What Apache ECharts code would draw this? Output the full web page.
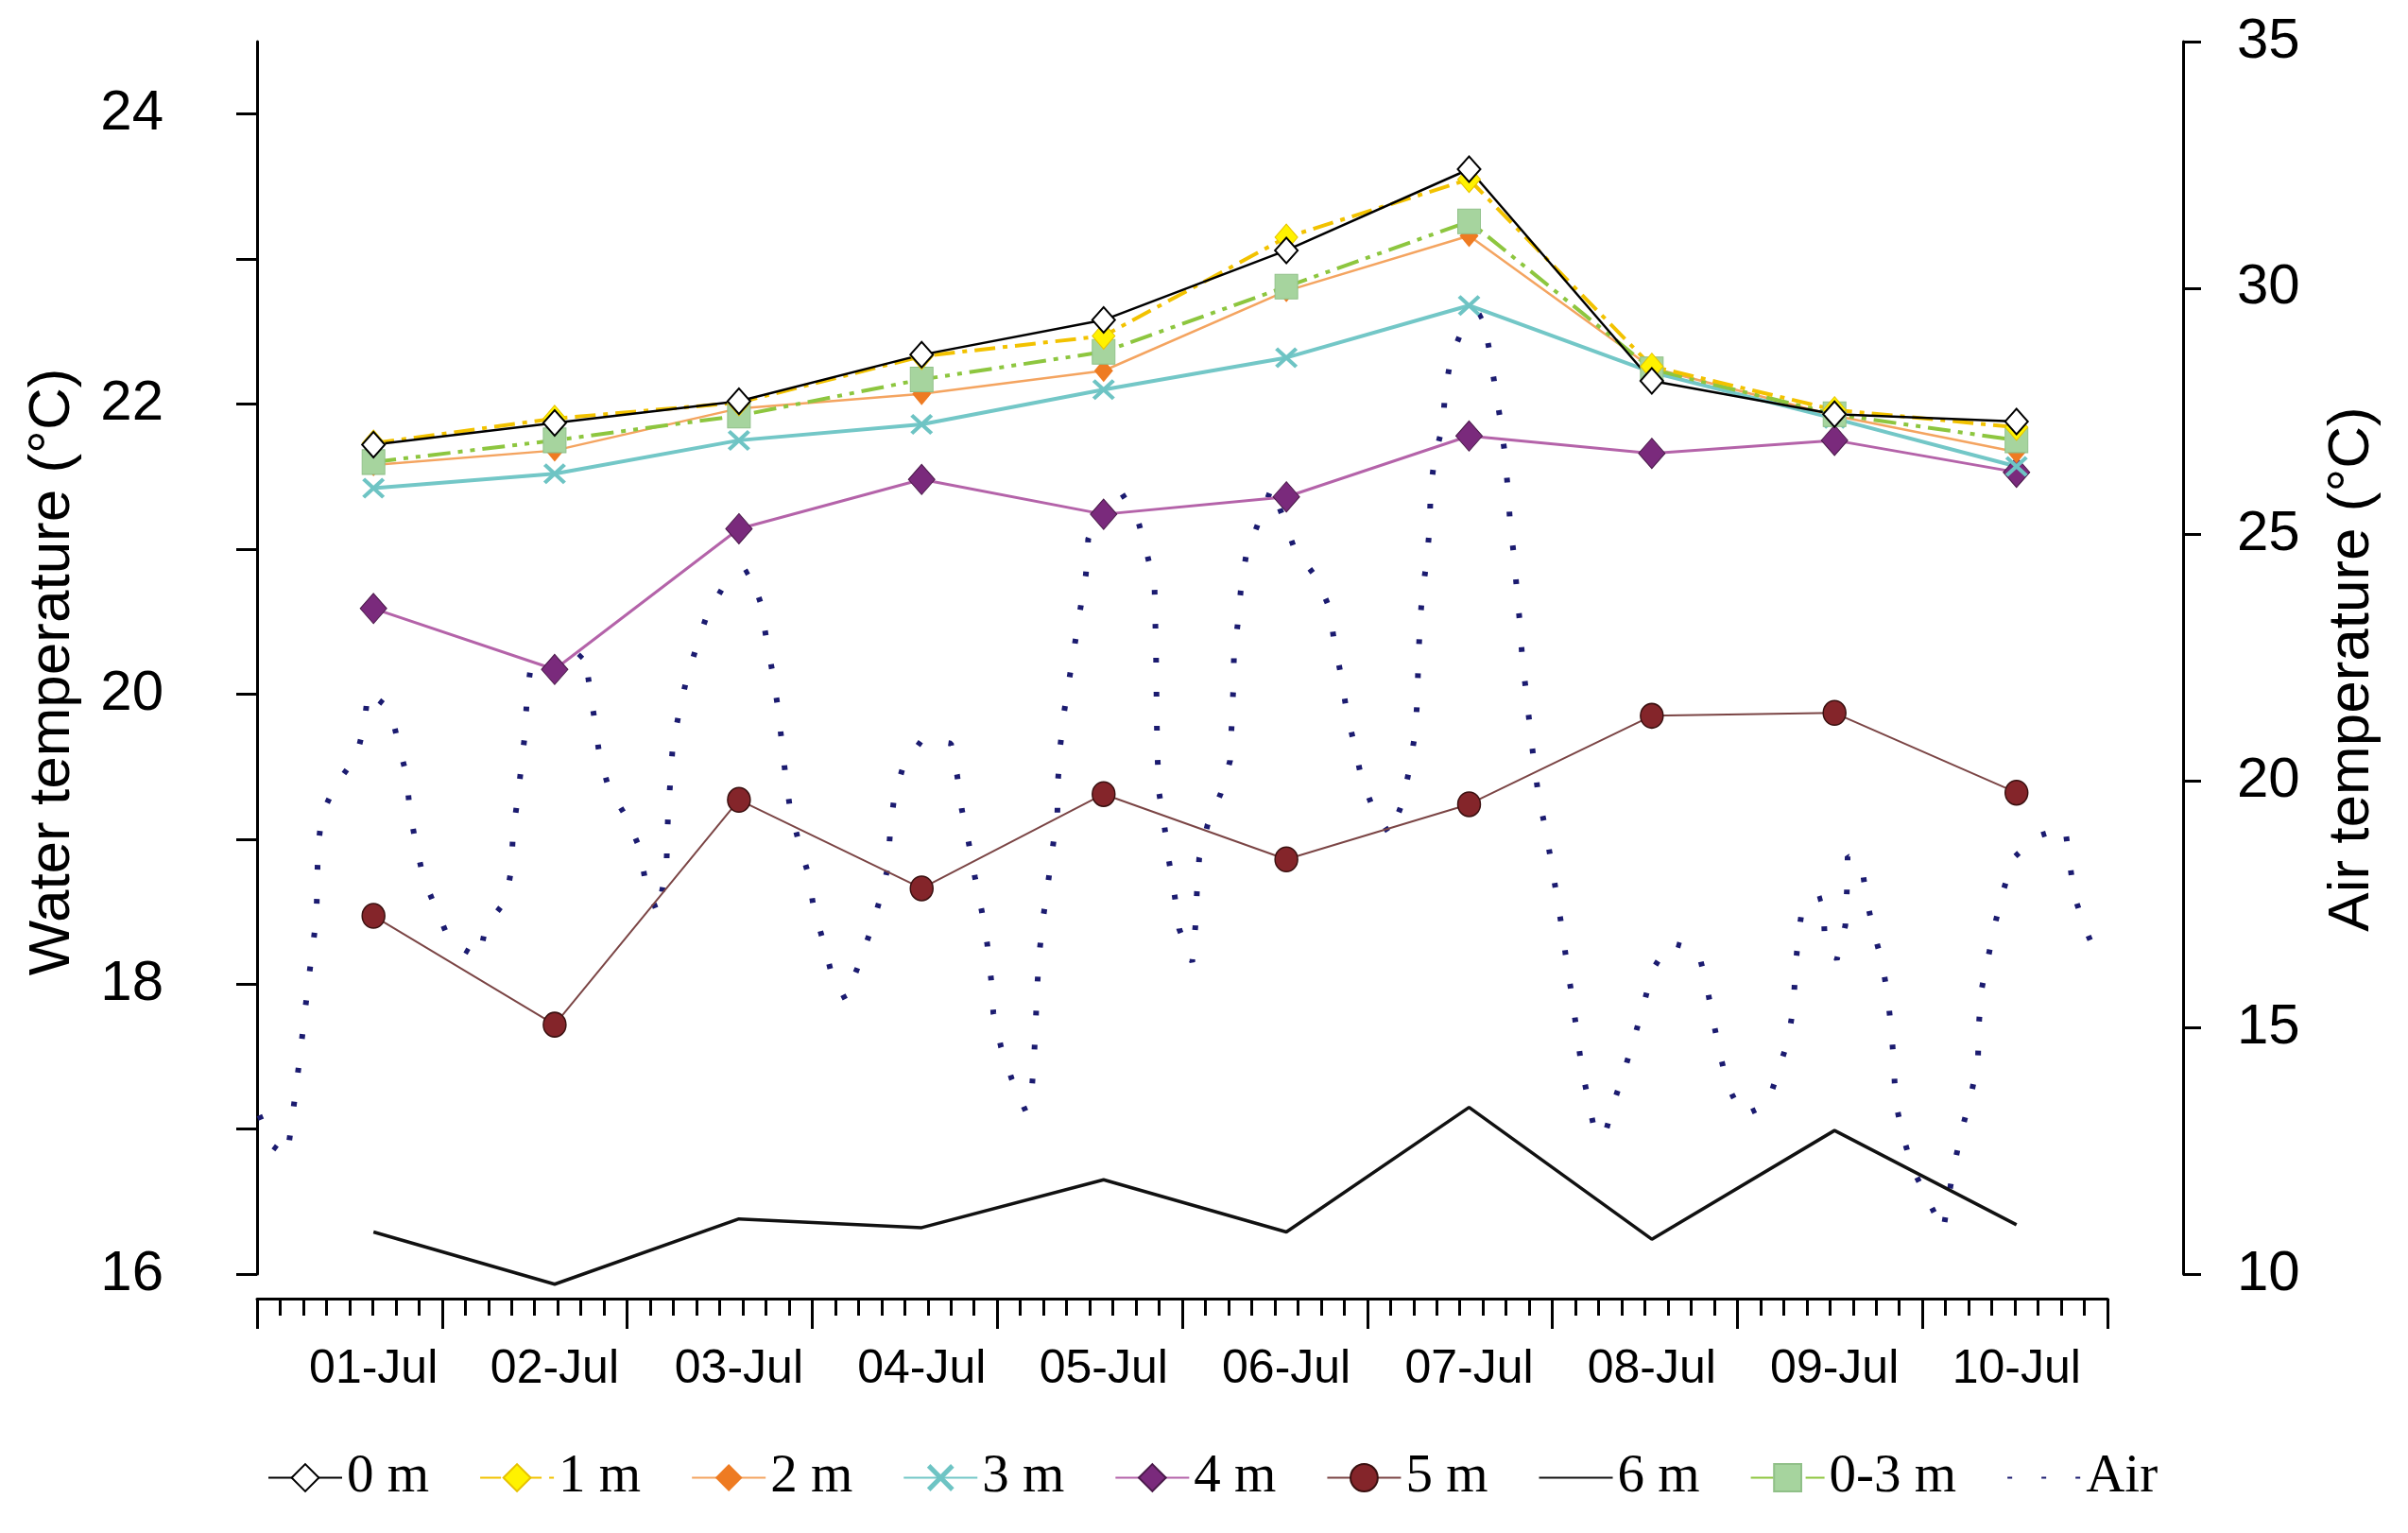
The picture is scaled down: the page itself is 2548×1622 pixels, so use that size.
<!DOCTYPE html>
<html><head><meta charset="utf-8">
<script src="https://cdn.jsdelivr.net/npm/echarts@6/dist/echarts.min.js"></script>
<style>html,body{margin:0;padding:0;background:#fff}#c{width:2548px;height:1622px}</style>
</head><body><div id="c"></div>
<script>
// ---- data ----
const dayLabels = ['01-Jul','02-Jul','03-Jul','04-Jul','05-Jul','06-Jul','07-Jul','08-Jul','09-Jul','10-Jul'];
const pointHours = [15.1, 38.6, 62.5, 86.2, 109.8, 133.5, 157.2, 180.9, 204.6, 228.2];
const t0m  = [21.72, 21.87, 22.02, 22.34, 22.58, 23.06, 23.62, 22.16, 21.93, 21.88];
const t1m  = [21.73, 21.90, 22.01, 22.33, 22.47, 23.15, 23.55, 22.26, 21.96, 21.84];
const t2m  = [21.58, 21.68, 21.97, 22.07, 22.23, 22.78, 23.16, 22.25, 21.92, 21.67];
const t3m  = [21.42, 21.52, 21.75, 21.86, 22.10, 22.32, 22.68, 22.22, 21.90, 21.57];
const t4m  = [20.59, 20.17, 21.14, 21.48, 21.24, 21.36, 21.78, 21.66, 21.75, 21.53];
const t5m  = [18.47, 17.72, 19.27, 18.66, 19.31, 18.86, 19.24, 19.85, 19.87, 19.32];
const t6m  = [16.29, 15.93, 16.38, 16.32, 16.65, 16.29, 17.15, 16.24, 16.99, 16.34];
const t03m = [21.60, 21.75, 21.92, 22.17, 22.36, 22.81, 23.26, 22.24, 21.93, 21.75];

const airHours = [0.3,2.1,3.9,4.5,5.6,6.6,7.7,7.9,8.4,10.2,12.9,13.9,14.4,17.3,18.3,19.4,19.8,20.6,21.6,23.3,
  25.0,28.8,29.7,32.3,33.0,33.2,33.8,34.3,34.8,35.0,35.6,38.1,40.6,42.5,43.1,43.8,44.4,45.6,47.9,49.6,
  50.4,52.0,53.1,53.3,53.6,53.9,54.7,55.7,57.0,58.4,60.7,63.9,65.3,66.0,66.8,67.5,68.0,68.5,69.1,70.2,
  71.5,72.2,73.4,74.5,76.3,77.9,79.4,80.7,81.8,82.1,82.6,83.8,86.3,90.0,90.8,91.4,92.3,93.1,94.0,94.7,
  95.2,95.5,96.5,97.9,99.7,100.5,100.8,101.0,101.2,101.5,102.0,102.6,103.2,103.8,103.9,104.2,104.7,105.4,106.1,106.8,
  107.5,107.8,109.3,111.9,114.2,115.4,116.4,116.5,116.6,116.65,116.7,116.8,117.0,117.7,118.3,119.0,119.6,121.3,121.7,121.9,
  122.2,123.3,125.0,126.2,126.4,126.6,126.7,127.2,127.6,128.3,129.9,131.6,133.1,134.6,137.4,139.1,139.7,140.6,141.3,142.3,
  143.2,144.8,147.0,148.6,149.5,150.2,150.5,150.6,150.8,151.1,151.7,152.1,152.2,152.7,153.8,154.1,154.9,156.6,159.0,159.8,
  160.5,161.2,161.8,162.2,162.5,163.0,163.4,163.8,164.1,164.6,165.1,165.6,166.2,167.1,167.9,168.6,169.3,169.9,170.6,171.2,
  171.8,172.7,173.6,174.8,176.0,177.4,178.7,179.9,181.0,183.2,186.9,188.0,188.8,189.7,190.7,192.7,195.9,197.3,198.6,199.3,
  199.5,199.9,200.5,203.1,203.3,204.9,206.0,206.2,206.3,208.1,208.7,209.6,210.8,211.5,212.0,212.3,212.5,213.4,214.7,216.6,
  218.7,219.4,220.2,221.2,222.3,223.2,223.3,223.6,224.5,225.4,226.5,227.8,230.9,234.5,235.1,235.7,237.1,238.8];
const airValues = [13.22,12.59,12.38,13.08,14.46,15.86,17.23,18.63,19.32,19.93,20.49,21.14,21.82,21.45,20.78,20.11,19.41,18.72,18.02,17.38,
  16.75,16.41,17.07,17.58,18.24,18.97,19.64,20.34,21.03,21.74,22.43,22.35,22.31,22.62,21.93,21.22,20.53,19.86,19.27,18.65,
  17.94,17.30,18.28,19.31,19.99,20.68,21.37,22.06,22.73,23.39,24.00,24.27,23.62,22.94,22.25,21.55,20.87,20.17,19.47,18.80,
  18.11,17.42,16.77,16.10,15.57,16.22,16.88,17.55,18.23,18.94,19.63,20.30,20.85,20.76,20.12,19.43,18.75,18.06,17.36,16.70,
  15.99,15.29,14.60,13.95,13.30,13.76,14.45,15.14,15.87,16.56,17.27,17.94,18.65,19.34,20.05,20.74,21.42,22.12,22.81,23.51,
  24.19,24.91,25.54,25.90,25.32,24.63,23.96,23.26,22.56,21.87,21.16,20.45,19.76,19.07,18.36,17.69,17.00,16.33,17.05,17.75,
  18.44,19.12,19.75,20.41,21.11,21.81,22.52,23.20,23.89,24.60,25.25,25.96,25.34,24.69,24.13,23.51,22.83,22.14,21.43,20.75,
  20.09,19.42,18.90,19.59,20.28,20.97,21.68,22.37,23.08,23.77,24.46,25.17,25.86,26.54,27.22,27.92,28.62,29.26,29.46,28.76,
  28.06,27.38,26.69,25.98,25.29,24.58,23.87,23.18,22.48,21.80,21.08,20.40,19.71,19.03,18.32,17.64,16.96,16.27,15.58,14.88,
  14.19,13.49,12.82,12.82,13.49,14.16,14.83,15.50,16.17,16.73,16.56,15.88,15.19,14.50,13.83,13.21,13.44,14.11,14.76,15.46,
  16.16,16.85,17.52,17.63,16.92,16.38,17.07,17.77,18.47,18.35,17.65,16.99,16.31,15.62,14.91,14.22,13.51,12.84,12.15,11.54,
  10.88,11.58,12.27,12.97,13.63,14.31,15.00,15.72,16.40,17.09,17.78,18.44,18.88,19.06,18.35,17.67,17.02,16.38];

const waterTicks = [16,17,18,19,20,21,22,23,24];
const waterLabels = [16,18,20,22,24];
const legendNames = ['0 m','1 m','2 m','3 m','4 m','5 m','6 m','0-3 m','Air'];

// ---- chart ----
const pair = (vals) => pointHours.map((h, i) => [h, vals[i]]);
const crossPath = 'path://M0,3 L3,0 L12,9 L21,0 L24,3 L15,12 L24,21 L21,24 L12,15 L3,24 L0,21 L9,12 Z';

function waterSeries(name, vals, symbol, size, item, line) {
  return {
    name, type: 'line', yAxisIndex: 0, data: pair(vals), clip: false,
    symbol, symbolSize: size, showSymbol: symbol !== 'none',
    itemStyle: item, lineStyle: line, emphasis: {disabled: true}
  };
}

const series = [
  {
    name: 'Air', type: 'line', yAxisIndex: 1, clip: false,
    data: airHours.map((h, i) => [h, airValues[i]]),
    symbol: 'none', showSymbol: false,
    itemStyle: {color: 'rgba(0,0,0,0)'},
    lineStyle: {color: '#1B1B70', width: 6, type: [5, 31]}, emphasis: {disabled: true}
  },
  waterSeries('6 m', t6m, 'none', 0, {color: 'rgba(0,0,0,0)'}, {color: '#111', width: 3.5}),
  waterSeries('5 m', t5m, 'circle', [24, 26], {color: '#84252A', borderColor: '#3a1010', borderWidth: 1.5}, {color: '#7B4545', width: 2}),
  waterSeries('4 m', t4m, 'diamond', [28, 32], {color: '#7A2A7C', borderColor: '#4a1a4a', borderWidth: 1}, {color: '#B463A9', width: 3}),
  waterSeries('3 m', t3m, crossPath, [24, 22], {color: '#6EC4C4'}, {color: '#73C7C7', width: 4}),
  waterSeries('2 m', t2m, 'diamond', [20, 24], {color: '#EE7B22'}, {color: '#F4A460', width: 2.5}),
  waterSeries('0-3 m', t03m, 'rect', [24, 26], {color: '#A6D49E', borderColor: '#90C088', borderWidth: 1}, {color: '#8DC63F', width: 4, type: [24, 8, 5, 8, 5, 8]}),
  waterSeries('1 m', t1m, 'diamond', [24, 28], {color: '#FFF200', borderColor: '#E6C200', borderWidth: 1}, {color: '#F2C200', width: 4, type: [22, 8, 5, 8]}),
  waterSeries('0 m', t0m, 'diamond', [24, 27], {color: '#fff', borderColor: '#000', borderWidth: 2}, {color: '#000', width: 2.5})
];

const chart = echarts.init(document.getElementById('c'), null, {renderer: 'canvas'});
const axisFont = 'Liberation Sans, Arial, sans-serif';
chart.setOption({
  animation: false,
  backgroundColor: '#fff',
  grid: {left: 272, right: 318, top: 44, bottom: 274, containLabel: false},
  legend: {
    data: legendNames, left: 278, top: 1530, orient: 'horizontal',
    itemWidth: 78, itemHeight: 36, itemGap: 53,
    textStyle: {fontFamily: 'Liberation Serif, Times New Roman, serif', fontSize: 57, color: '#000'}
  },
  xAxis: {
    type: 'value', min: 0, max: 240, interval: 24, offset: 26,
    axisLine: {show: true, lineStyle: {color: '#000', width: 3}},
    axisTick: {show: true, length: 32, lineStyle: {color: '#000', width: 3}},
    minorTick: {show: true, splitNumber: 8, length: 18, lineStyle: {color: '#000', width: 3}},
    axisLabel: {
      customValues: pointHours, margin: 50, fontSize: 50, fontFamily: axisFont, color: '#000',
      formatter: (v) => {
        let best = 0;
        pointHours.forEach((h, i) => { if (Math.abs(h - v) < Math.abs(pointHours[best] - v)) best = i; });
        return dayLabels[best];
      }
    },
    splitLine: {show: false}, minorSplitLine: {show: false}
  },
  yAxis: [
    {
      type: 'value', position: 'left', min: 16, max: 24.5, interval: 1, offset: 51,
      axisLine: {show: true, lineStyle: {color: '#000', width: 3}},
      axisTick: {show: true, length: 22, customValues: waterTicks, lineStyle: {color: '#000', width: 3}},
      axisLabel: {customValues: waterLabels, margin: 48, fontSize: 60, fontFamily: axisFont, color: '#000'},
      splitLine: {show: false},
      name: 'Water temperature (°C)', nameLocation: 'middle', nameGap: 134,
      nameTextStyle: {fontSize: 62, fontFamily: axisFont, color: '#000', padding: [0, 30, 0, 0]}
    },
    {
      type: 'value', position: 'right', min: 10, max: 35, interval: 5, offset: 80,
      axisLine: {show: true, lineStyle: {color: '#000', width: 3}},
      axisTick: {show: true, length: 19, lineStyle: {color: '#000', width: 3}},
      axisLabel: {margin: 57, fontSize: 60, fontFamily: axisFont, color: '#000'},
      splitLine: {show: false},
      name: 'Air temperature (°C)', nameLocation: 'middle', nameGap: 148,
      nameTextStyle: {fontSize: 62, fontFamily: axisFont, color: '#000', padding: [0, 24, 0, 0]}
    }
  ],
  series
});
</script>
</body></html>
